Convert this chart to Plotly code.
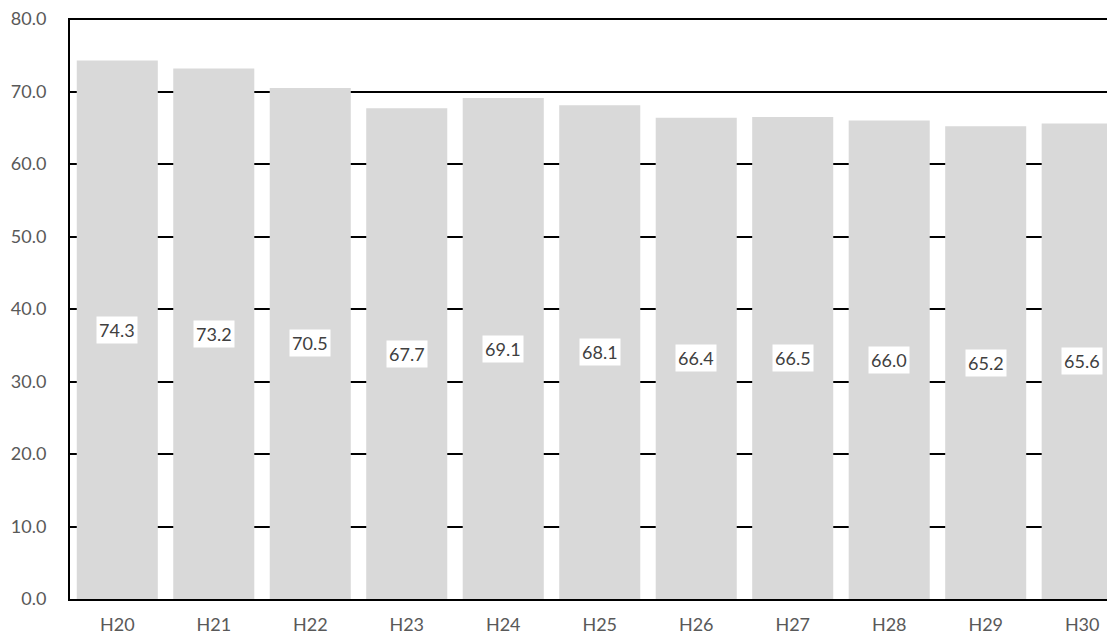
import plotly.graph_objects as go

# --- データ ---
years = ["H20", "H21", "H22", "H23", "H24", "H25", "H26", "H27", "H28", "H29", "H30"]
values = [74.3, 73.2, 70.5, 67.7, 69.1, 68.1, 66.4, 66.5, 66.0, 65.2, 65.6]
y_ticks = [0, 10, 20, 30, 40, 50, 60, 70, 80]

FONT = "Lato, 'Noto Sans', sans-serif"

fig = go.Figure(go.Bar(x=years, y=values, marker_color="#d9d9d9", marker_line_width=0))

# ラベル(白背景の箱) — バーの中央
for yr, v in zip(years, values):
    fig.add_annotation(x=yr, y=v / 2, text=f"{v:.1f}", showarrow=False,
                       bgcolor="white", borderpad=2,
                       font=dict(family=FONT, size=18, color="#404040"))

# ページの body に 8px の余白があるので、その分だけ小さくする
fig.update_layout(
    width=1107, height=630,
    margin=dict(l=62, r=0, t=10, b=39, autoexpand=False),
    plot_bgcolor="white", paper_bgcolor="white",
    bargap=0.16, showlegend=False,
    font=dict(family=FONT, size=18, color="#595959"),
)
fig.update_xaxes(range=[-0.49, 10.34], showline=True, linecolor="black", linewidth=2,
                 showgrid=False, ticks="", ticklabelstandoff=8,
                 tickfont=dict(size=18, color="#595959"))
# 上端の 80 の罫線が消えないよう範囲を少しだけ広げる
fig.update_yaxes(range=[0, 80.15], tickvals=y_ticks, tickformat=".1f",
                 showline=True, linecolor="black", linewidth=2,
                 showgrid=True, gridcolor="black", gridwidth=2, zeroline=False,
                 ticks="", ticklabelstandoff=18, ticklabeloverflow="allow",
                 tickfont=dict(size=18, color="#595959"))

fig.write_html("out.html")
